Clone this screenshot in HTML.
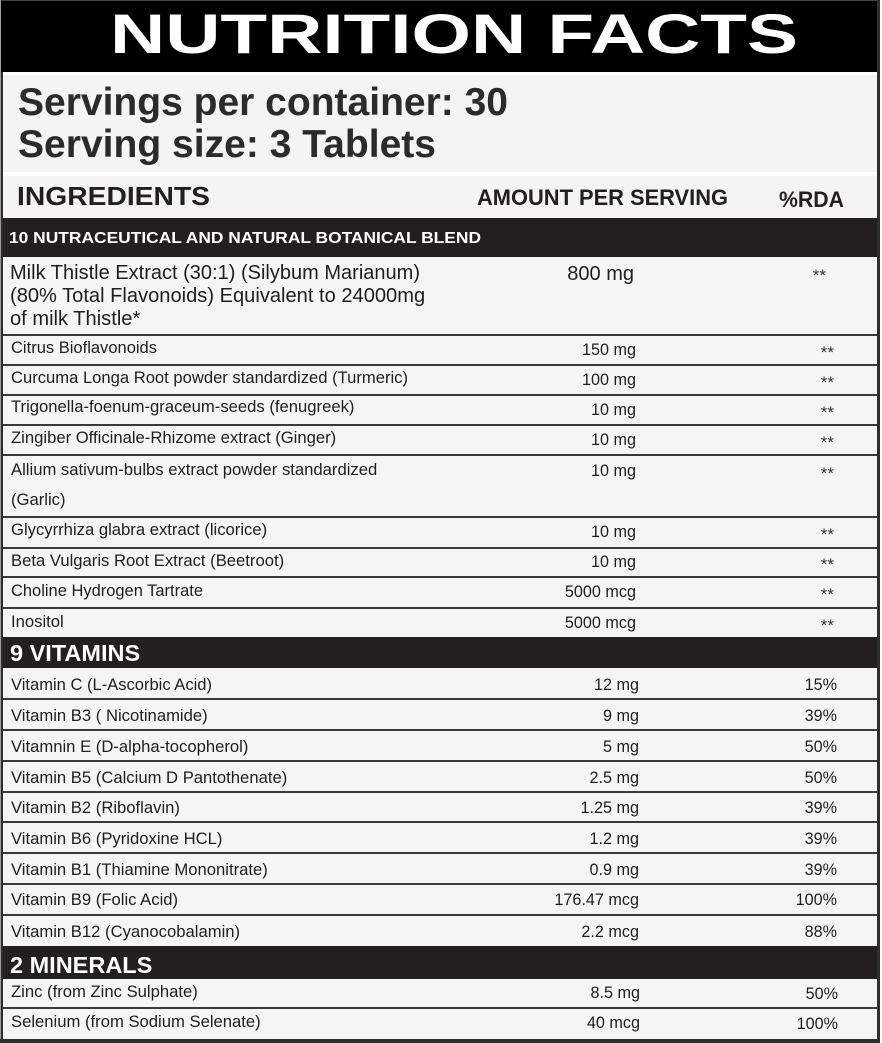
<!DOCTYPE html>
<html>
<head>
<meta charset="utf-8">
<style>
html,body{margin:0;padding:0;background:#fff;}
svg{display:block;}
</style>
</head>
<body>
<svg width="882" height="1043" viewBox="0 0 882 1043" xmlns="http://www.w3.org/2000/svg" font-family="'Liberation Sans', Arial, sans-serif">
  <rect x="0" y="0" width="882" height="1043" fill="#ffffff"/>
  <!-- Title bar -->
  <rect x="0" y="0" width="880" height="72" fill="#000"/>
  <rect x="0" y="0" width="880" height="1" fill="#444"/>
  <text x="110" y="53" font-size="56" font-weight="700" fill="#fff" textLength="688" lengthAdjust="spacingAndGlyphs">NUTRITION FACTS</text>

  <!-- Servings area -->
  <rect x="3" y="75" width="874" height="97" fill="#f4f4f4"/>
  <text x="18" y="115" font-size="38.5" font-weight="700" fill="#2b2b2b" textLength="490" lengthAdjust="spacingAndGlyphs">Servings per container: 30</text>
  <text x="18" y="157" font-size="38.5" font-weight="700" fill="#2b2b2b" textLength="418" lengthAdjust="spacingAndGlyphs">Serving size: 3 Tablets</text>

  <!-- Column header row -->
  <rect x="3" y="176" width="874" height="42" fill="#f4f4f4"/>
  <text x="17" y="205" font-size="26" font-weight="700" fill="#231f20" textLength="193" lengthAdjust="spacingAndGlyphs">INGREDIENTS</text>
  <text x="477" y="205" font-size="22" font-weight="700" fill="#231f20" textLength="251" lengthAdjust="spacingAndGlyphs">AMOUNT PER SERVING</text>
  <text x="779" y="207" font-size="22" font-weight="700" fill="#231f20" textLength="65" lengthAdjust="spacingAndGlyphs">%RDA</text>

  <!-- Blend bar -->
  <rect x="3" y="218" width="874" height="39" fill="#231f20"/>
  <text x="9" y="243" font-size="15.5" font-weight="700" fill="#fff" textLength="472" lengthAdjust="spacingAndGlyphs">10 NUTRACEUTICAL AND NATURAL BOTANICAL BLEND</text>

  <!-- Blend rows bg -->
  <rect x="3" y="257" width="874" height="380" fill="#f5f5f5"/>
  <!-- Vitamins bar -->
  <rect x="3" y="637" width="874" height="31" fill="#231f20"/>
  <text x="10" y="661" font-size="23.5" font-weight="700" fill="#fff">9 VITAMINS</text>
  <rect x="3" y="668" width="874" height="278" fill="#f5f5f5"/>
  <!-- Minerals bar -->
  <rect x="3" y="946" width="874" height="33" fill="#231f20"/>
  <text x="10" y="973" font-size="23.5" font-weight="700" fill="#fff">2 MINERALS</text>
  <rect x="3" y="979" width="874" height="60" fill="#f5f5f5"/>

  <!-- separators -->
  <g fill="#3a3a3a">
    <rect x="3" y="334" width="874" height="2"/>
    <rect x="3" y="364" width="874" height="2"/>
    <rect x="3" y="394" width="874" height="2"/>
    <rect x="3" y="424" width="874" height="2"/>
    <rect x="3" y="454" width="874" height="2"/>
    <rect x="3" y="516" width="874" height="2"/>
    <rect x="3" y="547" width="874" height="2"/>
    <rect x="3" y="576" width="874" height="2"/>
    <rect x="3" y="607" width="874" height="2"/>
    <rect x="3" y="698" width="874" height="2"/>
    <rect x="3" y="729" width="874" height="2"/>
    <rect x="3" y="760" width="874" height="2"/>
    <rect x="3" y="791" width="874" height="2"/>
    <rect x="3" y="821" width="874" height="2"/>
    <rect x="3" y="852" width="874" height="2"/>
    <rect x="3" y="883" width="874" height="2"/>
    <rect x="3" y="914" width="874" height="2"/>
    <rect x="3" y="1007" width="874" height="2"/>
  </g>

  <!-- frame -->
  <rect x="0" y="0" width="1" height="1043" fill="#9a9a9a"/>
  <rect x="1" y="72" width="2" height="971" fill="#2e2e2e"/>
  <rect x="877" y="0" width="3" height="1043" fill="#2e2e2e"/>
  <rect x="0" y="1039" width="880" height="4" fill="#2e2e2e"/>

  <!-- Milk thistle -->
  <g fill="#1e1e1e" font-size="20.1">
    <text x="10" y="279" textLength="410" lengthAdjust="spacingAndGlyphs">Milk Thistle Extract (30:1) (Silybum Marianum)</text>
    <text x="10" y="302">(80% Total Flavonoids) Equivalent to 24000mg</text>
    <text x="10" y="325">of milk Thistle*</text>
    <text x="634" y="280" text-anchor="end" font-size="20">800 mg</text>
  </g>
  <text x="826" y="281" text-anchor="end" font-size="17" fill="#333">**</text>

  <!-- Blend small rows -->
  <g fill="#1e1e1e" font-size="16.65">
    <text x="11" y="353" textLength="146" lengthAdjust="spacingAndGlyphs">Citrus Bioflavonoids</text>
    <text x="11" y="383" textLength="397" lengthAdjust="spacingAndGlyphs">Curcuma Longa Root powder standardized (Turmeric)</text>
    <text x="11" y="412">Trigonella-foenum-graceum-seeds (fenugreek)</text>
    <text x="11" y="443">Zingiber Officinale-Rhizome extract (Ginger)</text>
    <text x="11" y="475">Allium sativum-bulbs extract powder standardized</text>
    <text x="11" y="505">(Garlic)</text>
    <text x="11" y="535">Glycyrrhiza glabra extract (licorice)</text>
    <text x="11" y="566">Beta Vulgaris Root Extract (Beetroot)</text>
    <text x="11" y="596" textLength="192" lengthAdjust="spacingAndGlyphs">Choline Hydrogen Tartrate</text>
    <text x="11" y="627">Inositol</text>
  </g>
  <g fill="#1e1e1e" font-size="16.2" text-anchor="end">
    <text x="636" y="355">150 mg</text>
    <text x="636" y="385">100 mg</text>
    <text x="636" y="415">10 mg</text>
    <text x="636" y="445">10 mg</text>
    <text x="636" y="476">10 mg</text>
    <text x="636" y="537">10 mg</text>
    <text x="636" y="567">10 mg</text>
    <text x="636" y="597">5000 mcg</text>
    <text x="636" y="628">5000 mcg</text>
  </g>
  <g fill="#333" font-size="17" text-anchor="end">
    <text x="834" y="358">**</text>
    <text x="834" y="388">**</text>
    <text x="834" y="418">**</text>
    <text x="834" y="448">**</text>
    <text x="834" y="479">**</text>
    <text x="834" y="540">**</text>
    <text x="834" y="570">**</text>
    <text x="834" y="600">**</text>
    <text x="834" y="631">**</text>
  </g>

  <!-- Vitamins -->
  <g fill="#1e1e1e" font-size="16.65">
    <text x="11" y="690" textLength="201" lengthAdjust="spacingAndGlyphs">Vitamin C (L-Ascorbic Acid)</text>
    <text x="11" y="721">Vitamin B3 ( Nicotinamide)</text>
    <text x="11" y="752">Vitamnin E (D-alpha-tocopherol)</text>
    <text x="11" y="783">Vitamin B5 (Calcium D Pantothenate)</text>
    <text x="11" y="813">Vitamin B2 (Riboflavin)</text>
    <text x="11" y="844">Vitamin B6 (Pyridoxine HCL)</text>
    <text x="11" y="875">Vitamin B1 (Thiamine Mononitrate)</text>
    <text x="11" y="905">Vitamin B9 (Folic Acid)</text>
    <text x="11" y="937">Vitamin B12 (Cyanocobalamin)</text>
  </g>
  <g fill="#1e1e1e" font-size="16.2" text-anchor="end">
    <text x="639" y="690">12 mg</text>
    <text x="639" y="721">9 mg</text>
    <text x="639" y="752">5 mg</text>
    <text x="639" y="783">2.5 mg</text>
    <text x="639" y="813">1.25 mg</text>
    <text x="639" y="844">1.2 mg</text>
    <text x="639" y="875">0.9 mg</text>
    <text x="639" y="905">176.47 mcg</text>
    <text x="639" y="937">2.2 mcg</text>
  </g>
  <g fill="#1e1e1e" font-size="16.2" text-anchor="end">
    <text x="837" y="690">15%</text>
    <text x="837" y="721">39%</text>
    <text x="837" y="752">50%</text>
    <text x="837" y="783">50%</text>
    <text x="837" y="813">39%</text>
    <text x="837" y="844">39%</text>
    <text x="837" y="875">39%</text>
    <text x="837" y="905">100%</text>
    <text x="837" y="937">88%</text>
  </g>

  <!-- Minerals -->
  <g fill="#1e1e1e" font-size="16.65">
    <text x="11" y="997">Zinc (from Zinc Sulphate)</text>
    <text x="11" y="1027">Selenium (from Sodium Selenate)</text>
  </g>
  <g fill="#1e1e1e" font-size="16.2" text-anchor="end">
    <text x="640" y="998">8.5 mg</text>
    <text x="640" y="1028">40 mcg</text>
    <text x="838" y="999">50%</text>
    <text x="838" y="1029">100%</text>
  </g>
</svg>
</body>
</html>
